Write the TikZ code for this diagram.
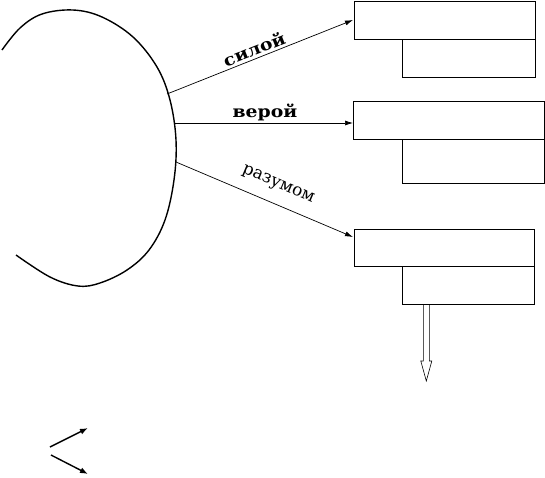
\documentclass[tikz,border=0pt]{standalone}
\usepackage{fontspec}
\usepackage{graphicx}
\newfontfamily\lblfont{DejaVu Serif}
\newfontfamily\lblbfont{DejaVu Serif Bold}
\usetikzlibrary{arrows.meta}
\newcommand{\boldlbl}[1]{{\lblbfont\fontsize{16.5pt}{19pt}\selectfont\scalebox{1.14}[1]{#1}}}
\newcommand{\reglbl}[1]{{\lblfont\fontsize{17pt}{20pt}\selectfont #1}}
\begin{document}
\begin{tikzpicture}[x=1pt,y=-1pt,
  box/.style={draw, line width=0.9pt, inner sep=0pt, anchor=north west},
  conn/.style={line width=0.7pt, -{Latex[length=8pt,width=5pt]}},
  small/.style={line width=1.4pt, -{Latex[length=8pt,width=6pt]}},
  lbl/.style={inner sep=0pt}]
\useasboundingbox (0,0) rectangle (545,477);

% arc (face)
\draw[line width=1.4pt] plot[smooth, tension=0.6] coordinates {(2,50) (20,28) (42,14) (73,10) (102,17) (133,37) (157,67) (170,100) (176,140) (174,180) (165,220) (149,250) (127,270) (100,283) (78,286) (50,277) (16,255)};
\coordinate (e1) at (167,94);
\coordinate (e2) at (175,123);
\coordinate (e3) at (176,162);

% boxes
\node[box, minimum width=181pt, minimum height=38pt] (b1) at (354,1) {};
\node[box, minimum width=133pt, minimum height=38pt] (b1s) at (402,39) {};
\node[box, minimum width=191pt, minimum height=38pt] (b2) at (353,101) {};
\node[box, minimum width=142pt, minimum height=44pt] (b2s) at (402,139) {};
\node[box, minimum width=180pt, minimum height=37pt] (b3) at (354,229) {};
\node[box, minimum width=132pt, minimum height=38pt] (b3s) at (402,266) {};

\coordinate (t1) at (353,20);
\coordinate (t2) at (353,123);
\coordinate (t3) at (353,237);

% connectors
\draw[conn] (e1) -- (t1);
\draw[conn] (e2) -- (t2);
\draw[conn] (e3) -- (t3);

% labels
\node[lbl, rotate=21.7] (l1) at (254,49) {\boldlbl{силой}};
\node[lbl] (l2) at (265,112) {\boldlbl{верой}};
\node[lbl, rotate=-23] (l3) at (278,185) {\reglbl{разумом}};

% hollow arrow down
\draw[line width=0.6pt] (423.3,304) -- (423.3,361) -- (420.8,361) -- (426.3,381) -- (431.8,361) -- (429.3,361) -- (429.3,304);

% small arrows
\coordinate (s0) at (50,447);
\coordinate (s1) at (88,428);
\coordinate (s2) at (51,455);
\coordinate (s3) at (88,474);
\draw[small] (s0) -- (s1);
\draw[small] (s2) -- (s3);
\end{tikzpicture}
\end{document}
